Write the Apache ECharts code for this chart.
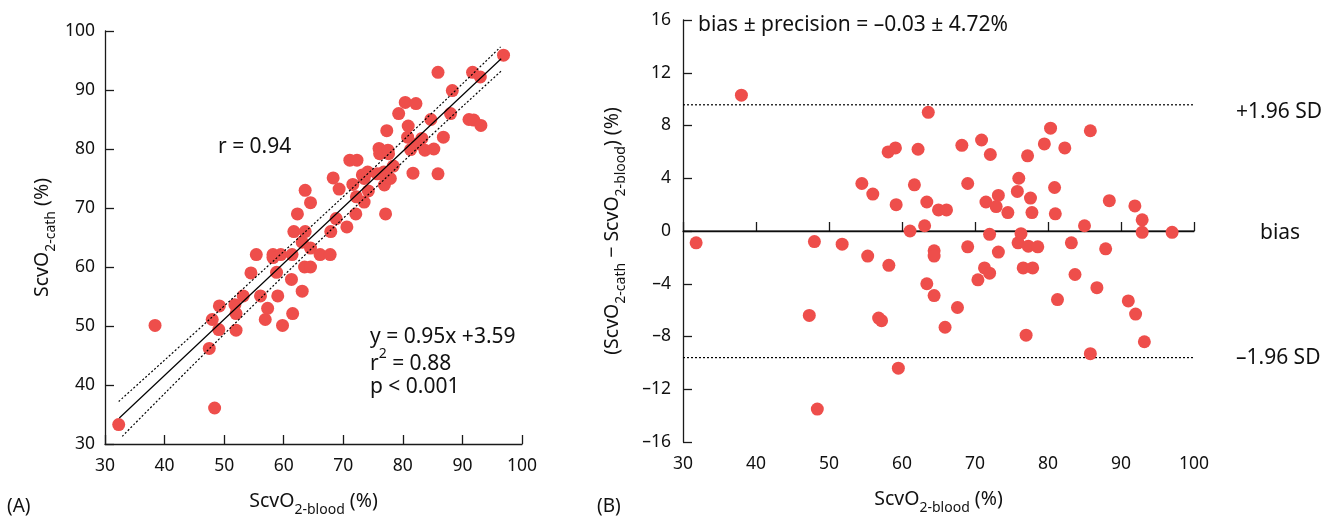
<!DOCTYPE html>
<html>
<head>
<meta charset="utf-8">
<script src="https://cdn.jsdelivr.net/npm/echarts@6/dist/echarts.min.js"></script>
<style>
html,body{margin:0;padding:0;background:#fff;}
#chart{width:1322px;height:516px;}
</style>
</head>
<body>
<div id="chart"></div>
<script>
// ---- Data ----
// Panel A: ScvO2-blood (x) vs ScvO2-cath (y)
const panelAPoints = [
  [32.3,33.3],[38.4,50.1],[47.5,46.2],[48.0,51.1],[48.4,36.1],[49.1,49.4],[49.2,53.4],
  [51.8,53.6],[52.0,52.1],[52.0,49.3],[53.2,55.1],[54.5,59.0],[55.4,62.1],[56.1,55.1],
  [56.9,51.1],[57.3,53.0],[58.2,62.1],[58.2,61.6],[58.8,59.1],[59.0,55.1],[59.5,62.1],
  [59.8,50.1],[61.3,57.9],[61.4,62.1],[61.5,52.1],[61.7,66.0],[62.3,69.0],[63.1,64.2],
  [63.1,55.9],[63.5,60.0],[63.6,66.0],[63.6,73.0],[64.5,70.9],[64.5,63.2],[64.5,60.0],
  [66.1,62.1],[67.8,62.1],[67.9,66.0],[68.3,75.1],[68.8,68.2],[69.3,73.2],[70.6,66.8],
  [71.1,78.1],[71.6,74.0],[72.1,69.0],[72.2,71.9],[72.3,78.1],[73.2,75.6],[73.5,75.0],
  [73.5,71.0],[74.1,76.1],[74.2,72.9],[75.7,75.8],[76.0,80.1],[76.1,79.2],[76.8,76.1],
  [76.9,73.9],[77.1,75.3],[77.1,69.0],[77.3,83.1],[77.5,79.8],[77.6,79.2],[77.9,75.0],
  [78.4,77.1],[79.3,86.0],[80.4,87.9],[80.8,82.0],[80.9,83.9],[81.3,79.9],[81.7,75.9],
  [82.2,87.7],[82.4,80.9],[83.2,81.8],[83.7,79.8],[84.7,85.0],[85.2,80.0],[85.9,93.0],
  [85.9,75.8],[86.8,82.0],[88.0,86.0],[88.3,89.9],[91.1,85.0],[91.7,93.0],[91.9,84.9],
  [93.0,92.2],[93.1,84.0],[96.9,95.9]
];
// regression line y = 0.95x + 3.59 (end points as drawn)
const regressionLine = [[32.4,34.4],[96.5,95.3]];
// 95% confidence band (dotted)
const bandUpper = [[32.3,37.2],[55,58.0],[78,79.5],[96.4,97.3]];
const bandLower = [[32.9,31.3],[55,53.6],[78,75.9],[96.6,93.3]];

// Panel B: Bland-Altman
const panelBPoints = [
  [31.8,-0.9],[38.0,10.3],[47.3,-6.4],[48.0,-0.8],[48.4,-13.5],[51.8,-1.0],[54.5,3.6],
  [55.3,-1.9],[56.0,2.8],[56.8,-6.6],[57.2,-6.8],[58.1,6.0],[58.2,-2.6],[59.1,6.3],
  [59.2,2.0],[59.5,-10.4],[61.1,0.0],[61.7,3.5],[62.2,6.2],[63.1,0.4],[63.4,2.2],
  [63.4,-4.0],[63.6,9.0],[64.4,-1.5],[64.4,-1.9],[64.4,-4.9],[65.0,1.6],[65.9,-7.3],
  [66.1,1.6],[67.6,-5.8],[68.2,6.5],[69.0,3.6],[69.0,-1.2],[70.4,-3.7],[70.9,6.9],
  [71.3,-2.8],[71.5,2.2],[72.0,-3.2],[72.0,-0.25],[72.1,5.8],[72.9,1.85],[73.2,2.7],
  [73.2,-1.6],[74.5,1.4],[75.8,3.0],[75.9,-0.9],[76.0,4.0],[76.3,-0.2],[76.6,-2.8],
  [77.0,-7.9],[77.2,5.7],[77.3,-1.15],[77.6,2.5],[77.8,1.4],[77.9,-2.8],[78.6,-1.2],
  [79.5,6.6],[80.35,7.8],[80.9,3.3],[81.0,1.3],[81.3,-5.2],[82.3,6.3],[83.2,-0.9],
  [83.7,-3.3],[85.0,0.4],[85.8,7.6],[85.8,-9.3],[86.7,-4.3],[87.9,-1.35],[88.4,2.3],
  [91.0,-5.3],[91.9,1.9],[92.0,-6.3],[92.9,0.85],[92.9,-0.1],[93.2,-8.4],[97.0,-0.1]
];
const biasValue = 0;
const upperLimit = 9.57;
const lowerLimit = -9.6;
const xRangeB = [30, 100];

const xTicksA = [30,40,50,60,70,80,90,100];
const yTicksA = [30,40,50,60,70,80,90,100];
const yTicksB = [-16,-12,-8,-4,0,4,8,12,16];

// ---- Styles ----
const FONT = 'Noto Sans';
const DOT = '#EE4E4B';
const AX = '#1a1a1a';
const subRich = {
  m: {fontFamily: FONT, fontSize: 19.5, color: '#111', lineHeight: 26, verticalAlign: 'middle'},
  s: {fontFamily: FONT, fontSize: 14, color: '#111', lineHeight: 26, verticalAlign: 'bottom', padding:[0,0,-3,0]}
};

function axisCommon() {
  return {
    axisLine: {show: true, lineStyle: {color: AX, width: 1.3}},
    axisTick: {show: true, inside: true, length: 9, lineStyle: {color: AX, width: 1.3}},
    splitLine: {show: false},
    axisLabel: {fontFamily: FONT, fontSize: 17.5, color: '#111'}
  };
}

const minusFmt = v => (v < 0 ? '\u2013' + Math.abs(v) : String(v));
const ANN = '21px "Noto Sans"';

const chart = echarts.init(document.getElementById('chart'), null, {renderer: 'canvas'});
chart.setOption({
  animation: false,
  backgroundColor: '#fff',
  grid: [
    {left: 105, top: 31, width: 417, height: 413, containLabel: false, outerBoundsMode: 'none'},
    {left: 683, top: 20, width: 511, height: 422, containLabel: false, outerBoundsMode: 'none'}
  ],
  xAxis: [
    Object.assign(axisCommon(), {
      gridIndex: 0, type: 'value', min: xTicksA[0], max: xTicksA[xTicksA.length-1], interval: 10,
      name: '{m|ScvO}{s|2-blood}{m| (%)}', nameLocation: 'middle', nameGap: 44,
      nameTextStyle: {rich: subRich},
      axisLabel: {fontFamily: FONT, fontSize: 17.5, color: '#111', margin: 13}
    }),
    Object.assign(axisCommon(), {
      gridIndex: 1, type: 'value', min: xRangeB[0], max: xRangeB[1], interval: 10,
      name: '{m|ScvO}{s|2-blood}{m| (%)}', nameLocation: 'middle', nameGap: 44,
      nameTextStyle: {rich: subRich},
      axisLabel: {fontFamily: FONT, fontSize: 17.5, color: '#111', margin: 13}
    })
  ],
  yAxis: [
    Object.assign(axisCommon(), {
      gridIndex: 0, type: 'value', min: yTicksA[0], max: yTicksA[yTicksA.length-1], interval: 10,
      name: '{m|ScvO}{s|2-cath}{m| (%)}', nameLocation: 'middle', nameGap: 50, nameRotate: 90,
      nameTextStyle: {rich: subRich},
      axisLabel: {fontFamily: FONT, fontSize: 17.5, color: '#111', margin: 10}
    }),
    Object.assign(axisCommon(), {
      gridIndex: 1, type: 'value', min: yTicksB[0], max: yTicksB[yTicksB.length-1], interval: 4,
      name: '{m|(ScvO}{s|2-cath}{m| \u2212 ScvO}{s|2-blood}{m|) (%)}', nameLocation: 'middle', nameGap: 58, nameRotate: 90,
      nameTextStyle: {rich: subRich},
      axisLabel: {fontFamily: FONT, fontSize: 17.5, color: '#111', margin: 12, formatter: minusFmt}
    })
  ],
  series: [
    {type: 'line', xAxisIndex: 0, yAxisIndex: 0, data: regressionLine, showSymbol: false,
     lineStyle: {color: '#000', width: 1.2}, z: 3},
    {type: 'line', xAxisIndex: 0, yAxisIndex: 0, data: bandUpper, showSymbol: false, smooth: true,
     lineStyle: {color: '#000', width: 1.2, type: [2,2]}, z: 3},
    {type: 'line', xAxisIndex: 0, yAxisIndex: 0, data: bandLower, showSymbol: false, smooth: true,
     lineStyle: {color: '#000', width: 1.2, type: [2,2]}, z: 3},
    {type: 'scatter', xAxisIndex: 0, yAxisIndex: 0, data: panelAPoints, symbolSize: 13,
     itemStyle: {color: DOT, opacity: 1}, z: 2},
    {type: 'line', xAxisIndex: 1, yAxisIndex: 1, data: [[xRangeB[0], biasValue],[xRangeB[1], biasValue]], showSymbol: false,
     lineStyle: {color: '#000', width: 1.2}, z: 1},
    {type: 'line', xAxisIndex: 1, yAxisIndex: 1, data: [[xRangeB[0], upperLimit],[xRangeB[1], upperLimit]], showSymbol: false,
     lineStyle: {color: '#000', width: 1.2, type: [2,2]}, z: 1},
    {type: 'line', xAxisIndex: 1, yAxisIndex: 1, data: [[xRangeB[0], lowerLimit],[xRangeB[1], lowerLimit]], showSymbol: false,
     lineStyle: {color: '#000', width: 1.2, type: [2,2]}, z: 1},
    {type: 'scatter', xAxisIndex: 1, yAxisIndex: 1, data: panelBPoints, symbolSize: 13,
     itemStyle: {color: DOT, opacity: 1}, z: 2}
  ],
  graphic: [
    {type: 'text', left: 218, top: 137, style: {text: 'r = 0.94', font: ANN, fill: '#111'}},
    {type: 'text', left: 370, top: 327, style: {text: 'y = 0.95x +3.59', font: ANN, fill: '#111'}},
    {type: 'text', left: 370, top: 347, style: {text: '{a|r}{b|2}{a| = 0.88}', rich: {
      a: {fontFamily: FONT, fontSize: 21, fill: '#111', lineHeight: 28, verticalAlign: 'bottom'},
      b: {fontFamily: FONT, fontSize: 14, fill: '#111', lineHeight: 28, verticalAlign: 'top'}}}},
    {type: 'text', left: 370, top: 377, style: {text: 'p < 0.001', font: ANN, fill: '#111'}},
    {type: 'text', left: 698, top: 15, style: {text: 'bias \u00b1 precision = \u20130.03 \u00b1 4.72%', font: ANN, fill: '#111'}},
    {type: 'text', left: 1236, top: 102, style: {text: '+1.96 SD', font: ANN, fill: '#111'}},
    {type: 'text', left: 1260, top: 223, style: {text: 'bias', font: ANN, fill: '#111'}},
    {type: 'text', left: 1236, top: 348, style: {text: '\u20131.96 SD', font: ANN, fill: '#111'}},
    {type: 'text', left: 7, top: 497, style: {text: '(A)', font: '19px "Noto Sans"', fill: '#111'}},
    {type: 'text', left: 597, top: 497, style: {text: '(B)', font: '19px "Noto Sans"', fill: '#111'}}
  ]
});
</script>
</body>
</html>
